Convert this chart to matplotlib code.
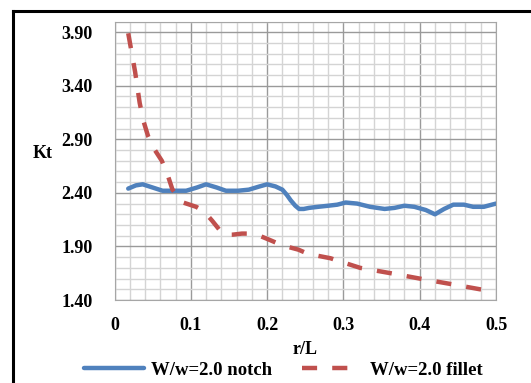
import matplotlib.pyplot as plt
import numpy as np
from matplotlib.lines import Line2D

# Data
notch_r = [0.018, 0.028, 0.037, 0.050, 0.063, 0.080, 0.094, 0.108, 0.120, 0.134, 0.146,
           0.162, 0.176, 0.190, 0.200, 0.211, 0.220, 0.226, 0.231, 0.237, 0.242, 0.248,
           0.255, 0.267, 0.280, 0.292, 0.303, 0.318, 0.335, 0.354, 0.367, 0.380, 0.393,
           0.408, 0.420, 0.432, 0.444, 0.458, 0.470, 0.484, 0.500]
notch_kt = [2.44, 2.47, 2.48, 2.45, 2.42, 2.42, 2.42, 2.45, 2.48, 2.45, 2.42,
            2.42, 2.43, 2.46, 2.48, 2.46, 2.43, 2.38, 2.33, 2.28, 2.25, 2.25,
            2.26, 2.27, 2.28, 2.29, 2.31, 2.30, 2.27, 2.25, 2.26, 2.28, 2.27,
            2.24, 2.20, 2.25, 2.29, 2.29, 2.27, 2.27, 2.30]

fillet_r = [0.018, 0.027, 0.033, 0.038, 0.044, 0.052, 0.062, 0.070, 0.076, 0.090, 0.107,
            0.117, 0.128, 0.137, 0.144, 0.155, 0.167, 0.180, 0.190, 0.202, 0.220, 0.241,
            0.254, 0.283, 0.300, 0.322, 0.362, 0.400, 0.440, 0.479, 0.495]
fillet_kt = [3.89, 3.53, 3.24, 3.07, 2.93, 2.81, 2.70, 2.56, 2.43, 2.31, 2.27,
             2.23, 2.14, 2.06, 2.01, 2.01, 2.02, 2.02, 2.00, 1.965, 1.91, 1.87,
             1.83, 1.79, 1.75, 1.70, 1.65, 1.60, 1.55, 1.50, 1.49]

x_ticks = [0, 0.1, 0.2, 0.3, 0.4, 0.5]
x_labels = ['0', '0.1', '0.2', '0.3', '0.4', '0.5']
y_ticks = [1.40, 1.90, 2.40, 2.90, 3.40, 3.90]
y_labels = ['1.40', '1.90', '2.40', '2.90', '3.40', '3.90']

plt.rcParams['font.family'] = ['Liberation Serif', 'DejaVu Serif']
plt.rcParams['font.weight'] = 'bold'

W, H = 531, 383
fig = plt.figure(figsize=(W / 100, H / 100), dpi=100)
ax = fig.add_axes([114.5 / W, 1 - 300 / H, 381.5 / W, 278.5 / H])

ax.plot(notch_r, notch_kt, color='#4F81BD', lw=3.2, label='W/w=2.0 notch',
        solid_capstyle='round', solid_joinstyle='round')
ax.plot(fillet_r, fillet_kt, color='#C0504D', lw=3.2, ls=(0, (3.4, 3.4)),
        label='W/w=2.0 fillet')

ax.set_xlim(0, 0.5)
ax.set_ylim(1.4, 4.0)
ax.set_xticks(x_ticks)
ax.set_xticklabels(x_labels)
ax.set_yticks(y_ticks)
ax.set_yticklabels(y_labels)
ax.set_xticks(np.arange(0, 0.501, 0.02), minor=True)
ax.set_yticks(np.arange(1.4, 4.001, 0.1), minor=True)
ax.grid(which='minor', color='#D4D4D4', lw=1.0)
ax.grid(which='major', color='#9A9A9A', lw=1.0)
ax.set_axisbelow(True)
ax.tick_params(which='both', length=0)
ax.tick_params(axis='y', pad=16, labelsize=13)
ax.tick_params(axis='x', pad=12, labelsize=13)
for s in ax.spines.values():
    s.set_color('#A6A6A6')

ax.set_xlabel('r/L', fontsize=13, fontweight='bold', labelpad=5)
fig.text(43 / W, 1 - 153 / H, 'Kt', fontsize=13, fontweight='bold',
         ha='center', va='center')

fig.legend(*ax.get_legend_handles_labels(), loc='center',
           bbox_to_anchor=(283 / W, 1 - 370 / H), ncol=2, frameon=False,
           fontsize=13.5, handlelength=3.2, columnspacing=1.6, handletextpad=0.4,
           borderpad=0, borderaxespad=0)

# outer chart frame (left and top edges only visible)
fig.add_artist(Line2D([13 / W, 13 / W], [0, 1 - 10.5 / H], color='black', lw=2.2,
                      transform=fig.transFigure, solid_capstyle='projecting'))
fig.add_artist(Line2D([13 / W, 1], [1 - 10.5 / H, 1 - 10.5 / H], color='black', lw=2.2,
                      transform=fig.transFigure, solid_capstyle='projecting'))

fig.savefig('out.png', dpi=100)
